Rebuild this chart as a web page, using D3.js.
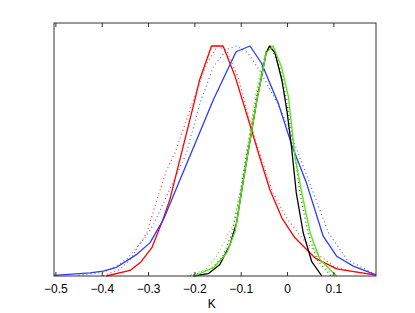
<!DOCTYPE html>
<html>
<head>
<meta charset="utf-8">
<script src="https://cdn.jsdelivr.net/npm/d3@7"></script>
<style>
  body { margin: 0; background: #fff; }
  text { font-family: "Liberation Sans", Arial, sans-serif; }
</style>
</head>
<body>
<div id="chart-area"></div>
<script>
// x tick labels
const xTicks = [-0.5, -0.4, -0.3, -0.2, -0.1, 0, 0.1];

// each curve: K values and normalised density
const redSolidK = [-0.39, -0.339, -0.316, -0.292, -0.268, -0.253, -0.199, -0.189, -0.163, -0.138, -0.112, -0.085, -0.058, -0.037, -0.011, 0.017, 0.06, 0.107, 0.192];
const redSolidV = [0, 0.024, 0.06, 0.122, 0.245, 0.332, 0.766, 0.851, 1.0, 1.0, 0.867, 0.69, 0.51, 0.375, 0.252, 0.166, 0.079, 0.031, 0.004];

const redDotK = [-0.397, -0.36, -0.339, -0.303, -0.281, -0.26, -0.242, -0.202, -0.173, -0.15, -0.13, -0.105, -0.07, -0.03, 0.0, 0.035, 0.07, 0.1, 0.14, 0.192];
const redDotV = [0, 0.03, 0.07, 0.187, 0.33, 0.46, 0.535, 0.766, 0.925, 1.0, 0.98, 0.86, 0.6, 0.36, 0.25, 0.158, 0.09, 0.043, 0.02, 0.005];

const blueSolidK = [-0.503, -0.425, -0.397, -0.368, -0.325, -0.296, -0.267, -0.249, -0.159, -0.11, -0.08, -0.055, -0.019, 0.01, 0.042, 0.078, 0.107, 0.143, 0.192];
const blueSolidV = [0.003, 0.014, 0.021, 0.038, 0.093, 0.144, 0.245, 0.332, 0.766, 0.975, 1.0, 0.925, 0.751, 0.57, 0.404, 0.173, 0.086, 0.043, 0.005];

const blueDotK = [-0.45, -0.4, -0.382, -0.346, -0.31, -0.289, -0.217, -0.188, -0.159, -0.13, -0.109, -0.085, -0.058, -0.015, 0.024, 0.057, 0.089, 0.129, 0.192];
const blueDotV = [0.003, 0.015, 0.028, 0.072, 0.158, 0.22, 0.535, 0.751, 0.91, 0.985, 1.0, 0.97, 0.89, 0.73, 0.536, 0.361, 0.189, 0.072, 0.005];

const blackSolidK = [-0.202, -0.17, -0.145, -0.123, -0.109, -0.094, -0.065, -0.045, -0.038, -0.026, -0.011, 0.0, 0.01, 0.02, 0.035, 0.053, 0.075];
const blackSolidV = [0, 0.01, 0.05, 0.137, 0.231, 0.42, 0.766, 0.97, 1.0, 0.97, 0.85, 0.715, 0.555, 0.36, 0.187, 0.064, 0.0];

const blackDotK = [-0.21, -0.165, -0.14, -0.118, -0.1, -0.068, -0.045, -0.035, -0.015, 0.0, 0.015, 0.028, 0.045, 0.065, 0.095];
const blackDotV = [0, 0.03, 0.08, 0.19, 0.38, 0.766, 0.97, 1.0, 0.9, 0.75, 0.55, 0.36, 0.187, 0.07, 0];

const greenSolidK = [-0.2, -0.159, -0.13, -0.112, -0.094, -0.065, -0.045, -0.03, -0.012, 0.003, 0.017, 0.032, 0.05, 0.071, 0.107];
const greenSolidV = [0, 0.036, 0.1, 0.194, 0.42, 0.766, 0.97, 1.0, 0.91, 0.78, 0.52, 0.36, 0.187, 0.072, 0];

const greenDotK = [-0.215, -0.175, -0.152, -0.116, -0.098, -0.07, -0.048, -0.035, -0.015, 0.0, 0.017, 0.03, 0.048, 0.068, 0.1];
const greenDotV = [0, 0.03, 0.086, 0.223, 0.39, 0.77, 0.97, 1.0, 0.92, 0.78, 0.55, 0.37, 0.19, 0.07, 0];

const curves = [
  { k: redDotK, v: redDotV, color: "#ff4040", dash: "1,3" },
  { k: blueDotK, v: blueDotV, color: "#5566ff", dash: "1,3" },
  { k: blackDotK, v: blackDotV, color: "#555", dash: "1,3" },
  { k: greenDotK, v: greenDotV, color: "#66ee22", dash: "1,3" },
  { k: redSolidK, v: redSolidV, color: "#ff0000", dash: null },
  { k: blueSolidK, v: blueSolidV, color: "#2a3cff", dash: null },
  { k: blackSolidK, v: blackSolidV, color: "#000000", dash: null },
  { k: greenSolidK, v: greenSolidV, color: "#55e611", dash: null },
];

const margin = { left: 54, right: 39, top: 23, bottom: 37 };
const width = 415 - margin.left - margin.right,
  height = 313 - margin.top - margin.bottom;

const svg = d3.select("#chart-area")
  .append("svg")
  .attr("width", 415)
  .attr("height", 313);

const g = svg.append("g")
  .attr("transform", "translate(" + margin.left + ", " + margin.top + ")");

const x = d3.scaleLinear()
  .domain([-0.503, 0.192])
  .range([0, width]);

const y = d3.scaleLinear()
  .domain([0, 1.1])
  .range([height, 0]);

const line = d3.line()
  .x((d) => x(d[0]))
  .y((d) => y(d[1]));

const plot = g.append("g");
curves.forEach((c) => {
  plot.append("path")
    .datum(c.k.map((k, i) => [k, c.v[i]]))
    .attr("fill", "none")
    .attr("stroke", c.color)
    .attr("stroke-width", c.dash ? 1.2 : 1.3)
    .attr("stroke-dasharray", c.dash)
    .attr("stroke-linejoin", "round")
    .attr("d", line);
});

// box
g.append("rect")
  .attr("x", 0)
  .attr("y", 0)
  .attr("width", width)
  .attr("height", height)
  .attr("fill", "none")
  .attr("stroke", "#333")
  .attr("stroke-width", 1);

// bottom axis, ticks pointing inward
const xAxisCall = d3.axisBottom(x)
  .tickValues(xTicks)
  .tickSize(-4)
  .tickPadding(8)
  .tickFormat((d) => d === 0 ? "0" : d3.format(".1f")(d).replace("-", "\u2212"));
g.append("g")
  .attr("class", "x axis")
  .attr("transform", "translate(0, " + height + ")")
  .call(xAxisCall)
  .call((s) => s.select(".domain").remove())
  .call((s) => s.selectAll("line").attr("stroke", "#333"))
  .selectAll("text")
  .attr("font-size", "12px")
  .attr("fill", "#000");

// top ticks
g.append("g")
  .attr("class", "x axis-top")
  .call(d3.axisTop(x).tickValues(xTicks).tickSize(-4).tickFormat(""))
  .call((s) => s.select(".domain").remove())
  .call((s) => s.selectAll("line").attr("stroke", "#333"));

// X Label
g.append("text")
  .attr("class", "x axis-label")
  .attr("x", x(-0.1) - 29)
  .attr("y", height + 32)
  .attr("font-size", "12px")
  .attr("text-anchor", "middle")
  .text("K");
</script>
</body>
</html>
